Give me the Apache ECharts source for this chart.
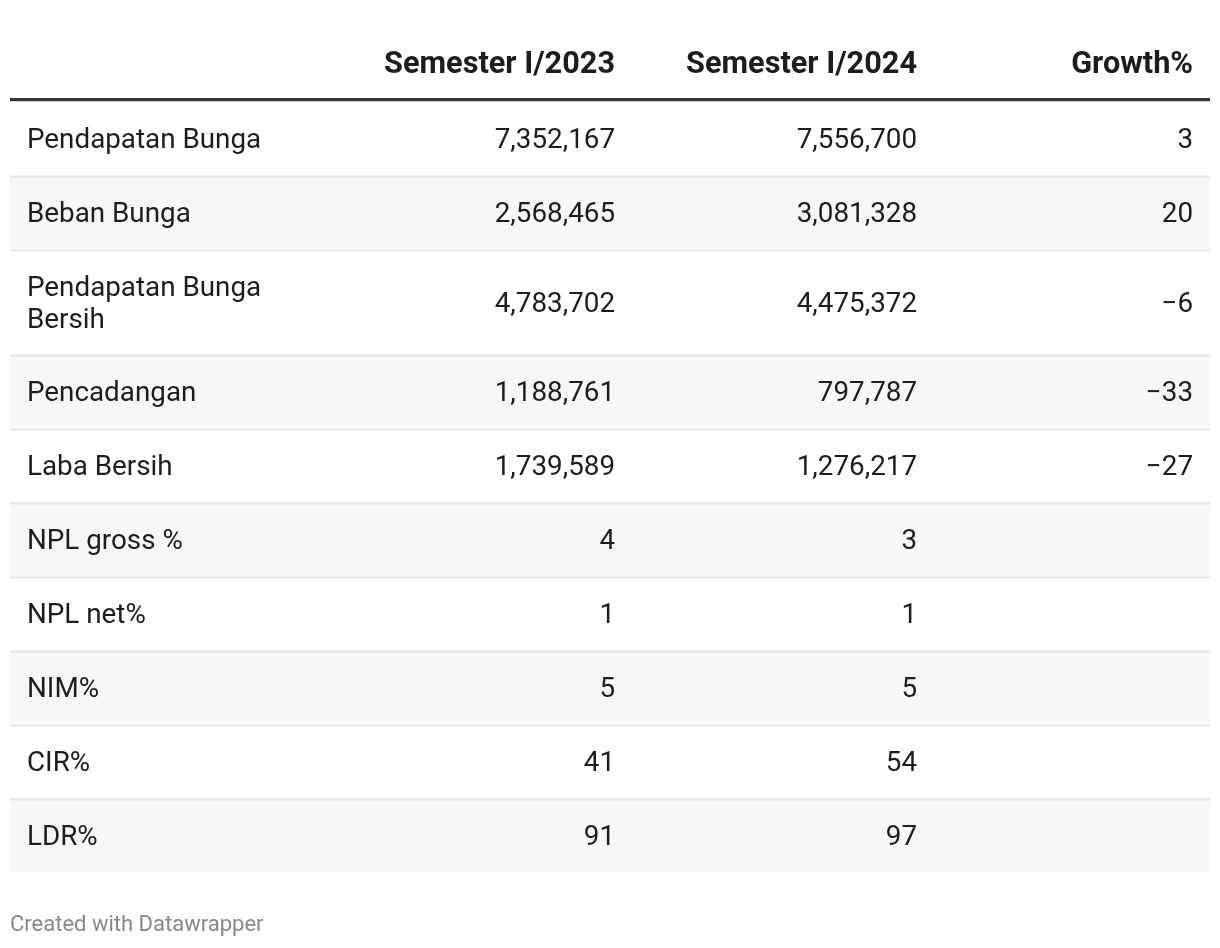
<!DOCTYPE html>
<html>
<head>
<meta charset="utf-8">
<script src="https://cdn.jsdelivr.net/npm/echarts@6/dist/echarts.min.js"></script>
<style>
    html, body { margin: 0; padding: 0; background: #fff; }
    #main { width: 1220px; height: 948px; }
</style>
</head>
<body>
<div id="main"></div>
<script>
// table data
const headers = ['', 'Semester I/2023', 'Semester I/2024', 'Growth%'];
const rowLabels = ['Pendapatan Bunga', 'Beban Bunga', 'Pendapatan Bunga Bersih', 'Pencadangan', 'Laba Bersih',
    'NPL gross %', 'NPL net%', 'NIM%', 'CIR%', 'LDR%'];
const sem2023 = [7352167, 2568465, 4783702, 1188761, 1739589, 4, 1, 5, 41, 91];
const sem2024 = [7556700, 3081328, 4475372, 797787, 1276217, 3, 1, 5, 54, 97];
const growth = [3, 20, -6, -33, -27, null, null, null, null, null];

const FONT = 'Roboto, "Noto Sans", sans-serif';
const bodySize = 27.8;
const headSize = 30.7;
const labelWidth = 270; // first column wrap width
const rowBase = 74;     // single line row
const lineStep = 31;    // each extra wrapped line
const headerH = 78;
const ruleH = 3.5;
const textShift = 3;    // nudge text down inside its row
// column anchors in table units (0..1200)
const colX = [17, 605, 907, 1183];

function fmt(v) {
    if (v === null || v === undefined) return '';
    return v.toLocaleString('en-US').replace('-', '\u2212');
}

// count wrapped lines of first column
const ctx = document.createElement('canvas').getContext('2d');
ctx.font = bodySize + 'px ' + FONT;
function lineCount(txt) {
    const words = txt.split(' ');
    let n = 1, cur = '';
    words.forEach(w => {
        const t = cur ? cur + ' ' + w : w;
        if (ctx.measureText(t).width > labelWidth && cur) { n++; cur = w; } else { cur = t; }
    });
    return n;
}

// row extents
let y = headerH + ruleH;
const rowData = rowLabels.map((lab, i) => {
    const h = rowBase + lineStep * (lineCount(lab) - 1);
    const item = [i, y, y + h];
    y += h;
    return item;
});
const totalH = y;

const myChart = echarts.init(document.getElementById('main'));

const option = {
    animation: false,
    title: {
        text: 'Created with Datawrapper',
        left: 10,
        top: 914,
        padding: 0,
        textStyle: { fontFamily: FONT, fontSize: 22, fontWeight: 'normal', color: '#888888' }
    },
    grid: { left: 10, top: 20, width: 1200, height: totalH },
    xAxis: { type: 'value', min: 0, max: 1200, show: false },
    yAxis: { type: 'value', min: 0, max: totalH, inverse: true, show: false },
    series: [
        {
            // header
            type: 'custom',
            data: [[0]],
            renderItem(params, api) {
                const a = api.coord([0, headerH]);
                const b = api.coord([1200, headerH + ruleH]);
                const children = [{
                    type: 'rect',
                    shape: { x: a[0], y: a[1], width: b[0] - a[0], height: b[1] - a[1] },
                    style: { fill: '#333333' }
                }];
                headers.forEach((h, c) => {
                    if (!h) return;
                    const p = api.coord([colX[c], 45]);
                    children.push({
                        type: 'text',
                        x: p[0], y: p[1],
                        style: {
                            text: h, fill: '#1d1d1d', fontFamily: FONT, fontSize: headSize,
                            fontWeight: 'bold', align: c === 0 ? 'left' : 'right', verticalAlign: 'middle'
                        }
                    });
                });
                return { type: 'group', children };
            }
        },
        {
            // body rows
            type: 'custom',
            data: rowData,
            renderItem(params, api) {
                const i = api.value(0);
                const y0 = api.value(1), y1 = api.value(2);
                const a = api.coord([0, y0]);
                const b = api.coord([1200, y1]);
                const mid = api.coord([0, (y0 + y1) / 2])[1] + textShift;
                const children = [{
                    type: 'rect',
                    shape: { x: a[0], y: a[1], width: b[0] - a[0], height: b[1] - a[1] },
                    style: { fill: i % 2 ? '#f7f7f7' : '#ffffff' }
                }];
                if (i > 0) {
                    children.push({
                        type: 'rect',
                        shape: { x: a[0], y: a[1], width: b[0] - a[0], height: 2 },
                        style: { fill: '#e5e5e5' }
                    });
                }
                const cells = [rowLabels[i], fmt(sem2023[i]), fmt(sem2024[i]), fmt(growth[i])];
                cells.forEach((t, c) => {
                    if (!t) return;
                    children.push({
                        type: 'text',
                        x: api.coord([colX[c], 0])[0], y: mid,
                        style: {
                            text: t, fill: '#1d1d1d', fontFamily: FONT, fontSize: bodySize,
                            lineHeight: 32,
                            width: c === 0 ? labelWidth : undefined,
                            overflow: c === 0 ? 'break' : undefined,
                            align: c === 0 ? 'left' : 'right', verticalAlign: 'middle'
                        }
                    });
                });
                return { type: 'group', children };
            }
        }
    ]
};

myChart.setOption(option);
</script>
</body>
</html>
